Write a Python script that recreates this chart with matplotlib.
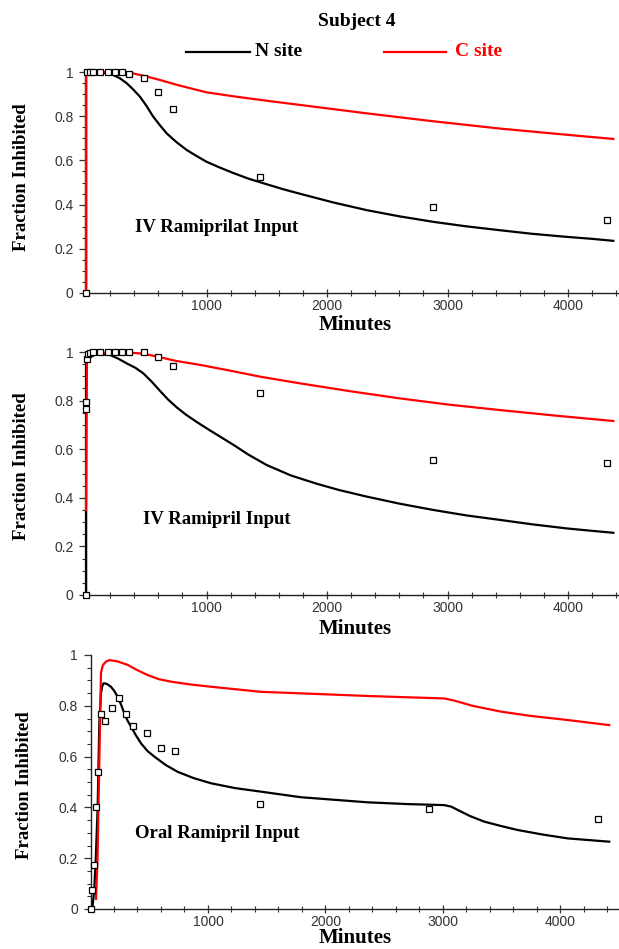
import matplotlib.pyplot as plt
import numpy as np
from matplotlib.ticker import MultipleLocator, FixedLocator

W, H = 619, 949

# ---- IV ramiprilat ----
iv1_n_t = [0, 0, 100, 150, 227, 280, 338, 390, 448, 500, 559, 615, 670, 750, 836, 920, 1000,
           1100, 1222, 1350, 1500, 1640, 1776, 2050, 2329, 2600, 2882, 3150, 3436, 3700, 3989, 4200, 4376]
iv1_n_y = [0, 1.0, 0.998, 0.996, 0.986, 0.972, 0.949, 0.922, 0.888, 0.848, 0.797, 0.758, 0.722, 0.683, 0.647, 0.619, 0.594,
           0.570, 0.543, 0.517, 0.492, 0.469, 0.449, 0.41, 0.375, 0.347, 0.322, 0.302, 0.284, 0.268, 0.254, 0.245, 0.236]
iv1_c_t = [0, 0, 300, 380, 500, 600, 760, 1000, 1250, 1500, 1776, 2329, 2882, 3436, 3989, 4376]
iv1_c_y = [0, 1.0, 1.0, 0.995, 0.98, 0.966, 0.941, 0.908, 0.888, 0.870, 0.851, 0.813, 0.777, 0.744, 0.716, 0.697]
iv1_obs_t = [0, 10, 30, 60, 120, 180, 240, 300, 360, 480, 600, 720, 1440, 2880, 4320]
iv1_obs_y = [0, 1, 1, 1, 1, 1, 1, 1, 0.991, 0.971, 0.911, 0.831, 0.523, 0.39, 0.331]

# ---- IV ramipril ----
iv2_n_t = [0, 0, 30, 100, 199, 270, 338, 410, 476, 545, 614, 680, 753, 830, 919, 1020, 1112, 1223, 1350,
           1499, 1700, 1914, 2100, 2329, 2600, 2882, 3150, 3436, 3700, 3989, 4200, 4376]
iv2_n_y = [0, 0.97, 0.985, 0.99, 0.988, 0.972, 0.953, 0.935, 0.912, 0.878, 0.84, 0.805, 0.772, 0.742, 0.712, 0.68, 0.652, 0.618, 0.577,
           0.535, 0.492, 0.458, 0.432, 0.405, 0.376, 0.35, 0.328, 0.309, 0.291, 0.274, 0.264, 0.256]
iv2_c_t = [0, 8, 30, 100, 300, 476, 600, 750, 946, 1168, 1450, 1776, 2200, 2606, 3000, 3436, 3900, 4376]
iv2_c_y = [0.35, 0.96, 0.985, 0.995, 1.0, 0.993, 0.98, 0.963, 0.947, 0.926, 0.898, 0.871, 0.838, 0.809, 0.784, 0.761, 0.738, 0.716]
iv2_obs_t = [0, 2, 4, 8, 15, 30, 60, 120, 180, 240, 300, 360, 480, 600, 720, 1440, 2880, 4320]
iv2_obs_y = [0, 0.765, 0.795, 0.97, 0.99, 0.995, 1, 1, 1, 1, 1, 1, 1, 0.981, 0.944, 0.833, 0.556, 0.545]

# ---- oral ramipril ----
or_n_t = [0, 15, 32, 45, 61, 75, 89, 100, 112, 140, 174, 200, 231, 260, 288, 315, 345, 385, 430, 485, 543,
          640, 742, 880, 1026, 1230, 1451, 1791, 2359, 2700, 3011, 3070, 3125, 3230, 3351, 3500, 3636, 3850, 4061, 4415]
or_n_y = [0, 0.0, 0.075, 0.2, 0.40, 0.73, 0.85, 0.878, 0.889, 0.886, 0.875, 0.86, 0.836, 0.805, 0.77, 0.742, 0.718, 0.685, 0.652, 0.622, 0.60,
          0.567, 0.54, 0.515, 0.495, 0.476, 0.462, 0.44, 0.42, 0.413, 0.409, 0.403, 0.39, 0.366, 0.344, 0.326, 0.311, 0.293, 0.278, 0.265]
or_c_t = [47, 60, 70, 80, 89, 105, 132, 160, 230, 317, 400, 487, 580, 685, 850, 1026, 1451, 1791, 2400,
          3011, 3100, 3250, 3494, 3750, 4061, 4415]
or_c_y = [0.04, 0.2, 0.45, 0.7, 0.93, 0.96, 0.974, 0.98, 0.975, 0.961, 0.94, 0.921, 0.905, 0.895, 0.884, 0.875, 0.855, 0.849, 0.838,
          0.829, 0.82, 0.80, 0.777, 0.76, 0.744, 0.724]
or_obs_t = [0, 15, 30, 45, 60, 90, 120, 180, 240, 300, 360, 480, 600, 720, 1440, 2880, 4320]
or_obs_y = [0, 0.075, 0.173, 0.403, 0.54, 0.768, 0.74, 0.79, 0.832, 0.769, 0.722, 0.693, 0.633, 0.621, 0.413, 0.394, 0.354]

labels = ['IV Ramiprilat Input', 'IV Ramipril Input', 'Oral Ramipril Input']

# pixel boxes: left, right, top (y=1), bottom (y=0), xmax
boxes = [(86, 619, 72, 293, 4423),
         (86, 619, 352, 595, 4423),
         (90.5, 619, 655, 909, 4498)]

serif = 'Liberation Serif'
fig = plt.figure(figsize=(W / 100, H / 100), dpi=100)


def fx(x):
    return x / W


def fy(y):
    return 1 - y / H


panels = [(iv1_n_t, iv1_n_y, iv1_c_t, iv1_c_y, iv1_obs_t, iv1_obs_y),
          (iv2_n_t, iv2_n_y, iv2_c_t, iv2_c_y, iv2_obs_t, iv2_obs_y),
          (or_n_t, or_n_y, or_c_t, or_c_y, or_obs_t, or_obs_y)]

for i, (box, data) in enumerate(zip(boxes, panels)):
    l, r, t, b, xmax = box
    ax = fig.add_axes([fx(l), fy(b), (r - l) / W, (b - t) / H])
    nt, ny, ct, cy, ot, oy = data
    ax.plot(nt, ny, color='black', lw=1.6, clip_on=False, zorder=3,
            solid_joinstyle='round')
    ax.plot(ct, cy, color='#ff0000', lw=1.6, clip_on=False, zorder=4,
            solid_joinstyle='round')
    ax.plot(ot, oy, ls='none', marker='s', ms=4.2, mfc='white', mec='black',
            mew=0.9, clip_on=False, zorder=5)
    ax.set_xlim(0, xmax)
    ax.set_ylim(0, 1)
    for s in ['top', 'right']:
        ax.spines[s].set_visible(False)
    for s in ['left', 'bottom']:
        ax.spines[s].set_linewidth(1.0)
        ax.spines[s].set_color('#222222')
    ax.xaxis.set_major_locator(FixedLocator([1000, 2000, 3000, 4000]))
    ax.xaxis.set_minor_locator(MultipleLocator(200))
    ax.yaxis.set_major_locator(FixedLocator([0, 0.2, 0.4, 0.6, 0.8, 1.0]))
    ax.yaxis.set_minor_locator(MultipleLocator(0.05))
    ax.set_yticklabels(['0', '0.2', '0.4', '0.6', '0.8', '1'])
    ax.tick_params(which='major', width=0.9, color='#333333',
                   labelsize=10, labelcolor='#333333')
    ax.tick_params(which='minor', width=0.8, color='#333333')
    ax.tick_params(axis='x', which='major', direction='inout', length=6, pad=1)
    ax.tick_params(axis='x', which='minor', direction='inout', length=4)
    ax.tick_params(axis='y', which='major', direction='out', length=5, pad=4)
    ax.tick_params(axis='y', which='minor', direction='out', length=3)
    for lab in ax.get_xticklabels() + ax.get_yticklabels():
        lab.set_fontfamily('Liberation Sans')
    ax.patch.set_alpha(0)

    # panel caption, axis titles
    cap_y = [227, 519, 833][i]
    fig.text(fx(217), fy(cap_y), labels[i], family=serif, weight='bold',
             fontsize=13.5, ha='center', va='center')
    min_y = [325, 629, 938][i]
    fig.text(fx(355), fy(min_y), 'Minutes', family=serif, weight='bold',
             fontsize=15, ha='center', va='center')
    yl_y = [177, 466, 785][i]
    yl_x = [22, 22, 25][i]
    fig.text(fx(yl_x), fy(yl_y), 'Fraction Inhibited', family=serif,
             weight='bold', fontsize=13.5, rotation=90, ha='center', va='center')

# title and key
fig.text(fx(357), fy(21), 'Subject 4', family=serif, weight='bold',
         fontsize=14, ha='center', va='center')
fig.add_artist(plt.Line2D([fx(186), fx(250)], [fy(52), fy(52)], color='black', lw=1.6))
fig.text(fx(255), fy(52), 'N site', family=serif, weight='bold', fontsize=14,
         ha='left', va='center')
fig.add_artist(plt.Line2D([fx(384), fx(446)], [fy(52), fy(52)], color='#ff0000', lw=1.6))
fig.text(fx(455), fy(52), 'C site', family=serif, weight='bold', fontsize=14,
         ha='left', va='center', color='#ff0000')

fig.savefig('out.png', dpi=100)
